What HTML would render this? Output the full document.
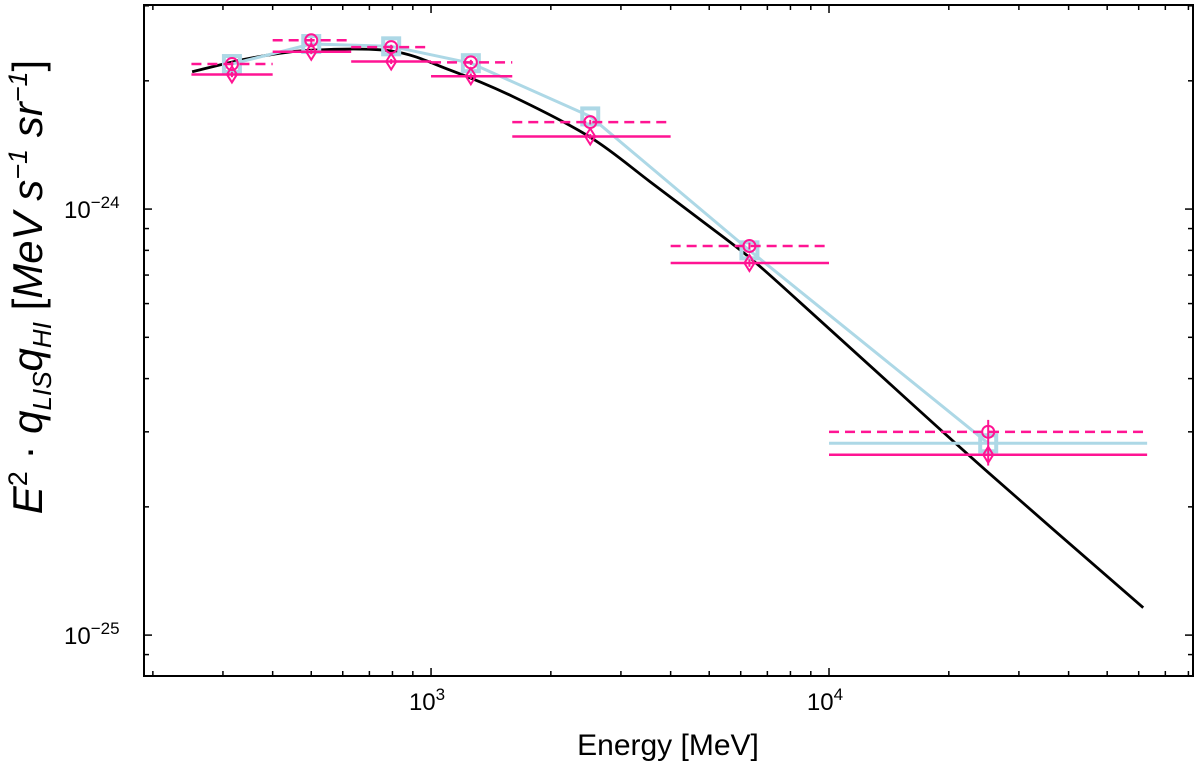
<!DOCTYPE html>
<html><head><meta charset="utf-8"><style>
body{margin:0;background:#fff;}
svg{display:block;font-family:"Liberation Sans",sans-serif;}
</style></head><body>
<svg id="chart" width="1200" height="769" viewBox="0 0 1200 769" xmlns="http://www.w3.org/2000/svg"></svg>
<script>
const binLo=[250,400,630,1000,1600,4000,10000];
const binHi=[400,630,1000,1600,4000,10000,63000];
const binCenter=[316,500,794,1259,2512,6310,25119];
const circleVals=[2.19e-24,2.49e-24,2.40e-24,2.21e-24,1.60e-24,8.19e-25,3.00e-25];
const circleErr=[0.03e-24,0.03e-24,0.03e-24,0.03e-24,0.02e-24,0.15e-25,0.2e-25];
const diamondVals=[2.07e-24,2.34e-24,2.22e-24,2.05e-24,1.48e-24,7.47e-25,2.65e-25];
const diamondErr=[0.03e-24,0.03e-24,0.03e-24,0.03e-24,0.02e-24,0.15e-25,0.15e-25];
const blueVals=[2.19e-24,2.44e-24,2.41e-24,2.20e-24,1.65e-24,8.0e-25,2.82e-25];
const modelE=[251,351,500,794,1116,1600,2510,3548,4742,6310,8440,12700,25100,61600];
const modelVals=[2.10e-24,2.26e-24,2.36e-24,2.35e-24,2.12e-24,1.84e-24,1.475e-24,1.16e-24,9.45e-25,7.70e-25,6.05e-25,4.28e-25,2.41e-25,1.16e-25];
const xTickVals=[1e3,1e4];
const xTickLabels=["3","4"];
const yTickVals=[1e-24,1e-25];
const yTickLabels=["−24","−25"];

const L=144,R=1193,T=5,B=676;
const xmin=Math.log10(190),xmax=Math.log10(82150),ymin=-25.096,ymax=-23.521;
const X=v=>L+(Math.log10(v)-xmin)/(xmax-xmin)*(R-L);
const Y=v=>B-(Math.log10(v)-ymin)/(ymax-ymin)*(B-T);
const svg=document.getElementById('chart');
const NS='http://www.w3.org/2000/svg';
function mk(tag,attrs,parent){const e=document.createElementNS(NS,tag);for(const k in attrs)e.setAttribute(k,attrs[k]);(parent||svg).appendChild(e);return e;}
function smooth(pts){let d='M'+pts[0][0]+','+pts[0][1];
 for(let i=0;i<pts.length-1;i++){const p0=pts[Math.max(0,i-1)],p1=pts[i],p2=pts[i+1],p3=pts[Math.min(pts.length-1,i+2)];
  const c1=[p1[0]+(p2[0]-p0[0])/6,p1[1]+(p2[1]-p0[1])/6],c2=[p2[0]-(p3[0]-p1[0])/6,p2[1]-(p3[1]-p1[1])/6];
  d+='C'+c1[0]+','+c1[1]+' '+c2[0]+','+c2[1]+' '+p2[0]+','+p2[1];}
 return d;}

const ticks=mk('g',{});


for(let d=2;d<=4;d++)for(let m=1;m<10;m++){const v=m*Math.pow(10,d);const x=X(v);if(x<L||x>R)continue;const len=m===1?8:5;
 mk('line',{x1:x,x2:x,y1:B,y2:B-len,stroke:'#000','stroke-width':1.5},ticks);
 mk('line',{x1:x,x2:x,y1:T,y2:T+len,stroke:'#000','stroke-width':1.5},ticks);}
for(let d=-26;d<=-24;d++)for(let m=1;m<10;m++){const v=m*Math.pow(10,d);const y=Y(v);if(y<T||y>B)continue;const len=m===1?8:5;
 mk('line',{x1:L,x2:L+len,y1:y,y2:y,stroke:'#000','stroke-width':1.5},ticks);
 mk('line',{x1:R,x2:R-len,y1:y,y2:y,stroke:'#000','stroke-width':1.5},ticks);}

xTickVals.forEach((v,i)=>{const t=mk('text',{x:X(v)-4,y:710,'font-size':24,'text-anchor':'middle'});
 
 
 t.innerHTML='10<tspan dy="-10" font-size="17">'+xTickLabels[i]+'</tspan>';});
yTickVals.forEach((v,i)=>{const t=mk('text',{x:64,y:Y(v)+9,'font-size':24});
 
 
 t.innerHTML='10<tspan dy="-10" font-size="17">'+yTickLabels[i]+'</tspan>';});

const mp=mk('path',{d:smooth(modelE.map((e,i)=>[X(e),Y(modelVals[i])])),fill:'none',stroke:'#000','stroke-width':2.8});



const bl=mk('path',{d:binCenter.map((e,i)=>(i?'L':'M')+X(e)+','+Y(blueVals[i])).join(''),fill:'none',stroke:'#add8e6','stroke-width':3});


const last=binCenter.length-1;
const bh=mk('line',{x1:X(binLo[last]),x2:X(binHi[last]),y1:Y(blueVals[last]),y2:Y(blueVals[last]),stroke:'#add8e6','stroke-width':3});


binCenter.forEach((e,i)=>{const r=mk('rect',{x:X(e)-8,y:Y(blueVals[i])-8,width:16,height:16,fill:'none',stroke:'#add8e6','stroke-width':4});
 
 });

const pink='#ff1493';
binCenter.forEach((e,i)=>{
 const g=mk('g',{});
 
 
 const yc=Y(circleVals[i]),yd=Y(diamondVals[i]),x=X(e);
 mk('line',{x1:X(binLo[i]),x2:X(binHi[i]),y1:yc,y2:yc,stroke:pink,'stroke-width':2.5,'stroke-dasharray':'10,6'},g);
 mk('line',{x1:X(binLo[i]),x2:X(binHi[i]),y1:yd,y2:yd,stroke:pink,'stroke-width':2.5},g);
 mk('line',{x1:x,x2:x,y1:Y(circleVals[i]+circleErr[i]),y2:Y(circleVals[i]-circleErr[i]),stroke:pink,'stroke-width':2},g);
 mk('line',{x1:x,x2:x,y1:Y(diamondVals[i]+diamondErr[i]),y2:Y(diamondVals[i]-diamondErr[i]),stroke:pink,'stroke-width':2},g);
 mk('circle',{cx:x,cy:yc,r:6,fill:'none',stroke:pink,'stroke-width':2},g);
 mk('path',{d:`M${x},${yd-8}L${x+5},${yd}L${x},${yd+8}L${x-5},${yd}Z`,fill:'none',stroke:pink,'stroke-width':2},g);
});

const fr=mk('rect',{x:L,y:T,width:R-L,height:B-T,fill:'none',stroke:'#000','stroke-width':2});



const xl=mk('text',{x:668,y:755,'font-size':30,'text-anchor':'middle'});


xl.textContent='Energy [MeV]';
const yl=mk('text',{x:0,y:0,'font-size':42,'text-anchor':'middle','font-style':'italic',transform:'translate(42,287) rotate(-90)'});


yl.innerHTML='E<tspan dy="-15" font-size="27" font-style="normal">2</tspan><tspan dy="15" font-style="normal"> · </tspan>q<tspan dy="9" font-size="26">LIS</tspan><tspan dy="-9">q</tspan><tspan dy="9" font-size="26">HI</tspan><tspan dy="-9" font-style="normal"> [</tspan>MeV s<tspan dy="-15" font-size="27">−1</tspan><tspan dy="15"> sr</tspan><tspan dy="-15" font-size="27">−1</tspan><tspan dy="15" font-style="normal">]</tspan>';
</script>
</body></html>
